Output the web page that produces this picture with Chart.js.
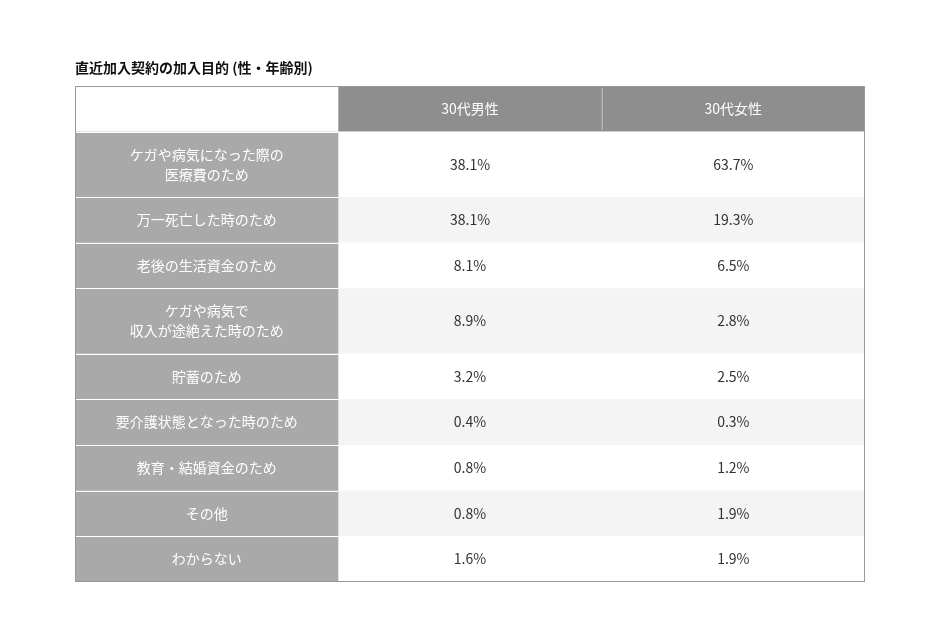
<!DOCTYPE html>
<html lang="ja">
<head>
<meta charset="UTF-8">
<script src="https://cdn.jsdelivr.net/npm/chart.js@4/dist/chart.umd.min.js"></script>
<style>
  body { margin: 0; background: #fff; }
  #wrap { width: 940px; height: 640px; position: relative; }
</style>
</head>
<body>
<div id="wrap"><canvas id="c"></canvas></div>
<script>
const title = '直近加入契約の加入目的 (性・年齢別)';
const columns = ['30代男性', '30代女性'];
const purposes = [
  'ケガや病気になった際の\n医療費のため',
  '万一死亡した時のため',
  '老後の生活資金のため',
  'ケガや病気で\n収入が途絶えた時のため',
  '貯蓄のため',
  '要介護状態となった時のため',
  '教育・結婚資金のため',
  'その他',
  'わからない'
];
const male30 = [38.1, 38.1, 8.1, 8.9, 3.2, 0.4, 0.8, 0.8, 1.6];
const female30 = [63.7, 19.3, 6.5, 2.8, 2.5, 0.3, 1.2, 1.9, 1.9];

const FONT = "'Noto Sans CJK JP', 'Noto Sans', sans-serif";
// row height in units: one text line = 1, each extra line adds 0.43
const rowUnits = purposes.map(p => 1 + 0.43 * (p.split('\n').length - 1));
const total = 1 + rowUnits.reduce((a, b) => a + b, 0);

const tablePlugin = {
  id: 'table',
  afterDraw(chart) {
    const { ctx } = chart;
    const x = chart.scales.x, y = chart.scales.y;
    const cx = [0, 1, 2, 3].map(v => x.getPixelForValue(v));
    const top = y.getPixelForValue(0), bottom = y.getPixelForValue(total);
    ctx.save();
    ctx.textAlign = 'center';
    ctx.textBaseline = 'middle';

    // header
    const hb = y.getPixelForValue(1);
    ctx.fillStyle = '#8e8e8e';
    ctx.fillRect(cx[1], top, cx[3] - cx[1], hb - top);
    ctx.fillStyle = '#fff';
    ctx.font = '14px ' + FONT;
    columns.forEach((c, i) => ctx.fillText(c, (cx[i + 1] + cx[i + 2]) / 2, (top + hb) / 2));
    ctx.strokeStyle = '#c8c8c8'; ctx.lineWidth = 1;
    ctx.beginPath(); ctx.moveTo(cx[2] + 0.5, top + 2); ctx.lineTo(cx[2] + 0.5, hb - 2); ctx.stroke();

    let u = 1;
    purposes.forEach((p, i) => {
      const y0 = y.getPixelForValue(u), y1 = y.getPixelForValue(u + rowUnits[i]);
      u += rowUnits[i];
      ctx.fillStyle = i % 2 ? '#f4f4f4' : '#ffffff';
      ctx.fillRect(cx[1], y0, cx[3] - cx[1], y1 - y0);
      ctx.fillStyle = '#a9a9a9';
      ctx.fillRect(cx[0], y0, cx[1] - cx[0], y1 - y0);
      ctx.strokeStyle = '#ffffff';
      ctx.beginPath(); ctx.moveTo(cx[0], Math.round(y0) + 0.5); ctx.lineTo(cx[1], Math.round(y0) + 0.5); ctx.stroke();
      const mid = (y0 + y1) / 2;
      const lines = p.split('\n');
      ctx.fillStyle = '#fff';
      ctx.font = '14px ' + FONT;
      lines.forEach((l, k) => ctx.fillText(l, (cx[0] + cx[1]) / 2, mid + (k - (lines.length - 1) / 2) * 20));
      ctx.fillStyle = '#333';
      ctx.font = '14px ' + FONT;
      ctx.fillText(male30[i].toFixed(1) + '%', (cx[1] + cx[2]) / 2, mid);
      ctx.fillText(female30[i].toFixed(1) + '%', (cx[2] + cx[3]) / 2, mid);
    });

    ctx.strokeStyle = '#9a9a9a';
    ctx.strokeRect(cx[0] + 0.5, top + 0.5, cx[3] - cx[0] - 1, bottom - top - 1);

    ctx.textAlign = 'left';
    ctx.fillStyle = '#111';
    ctx.font = 'bold 14px ' + FONT;
    ctx.fillText(title, cx[0], top - 18);
    ctx.restore();
  }
};

new Chart(document.getElementById('c'), {
  type: 'scatter',
  data: { datasets: [{ data: [] }] },
  options: {
    responsive: true,
    maintainAspectRatio: false,
    animation: false,
    layout: { padding: { left: 75, right: 75, top: 86, bottom: 58 } },
    plugins: { legend: { display: false }, tooltip: { enabled: false } },
    scales: {
      x: { type: 'linear', min: 0, max: 3, display: false },
      y: { type: 'linear', min: 0, max: total, reverse: true, display: false }
    }
  },
  plugins: [tablePlugin]
});
</script>
</body>
</html>
